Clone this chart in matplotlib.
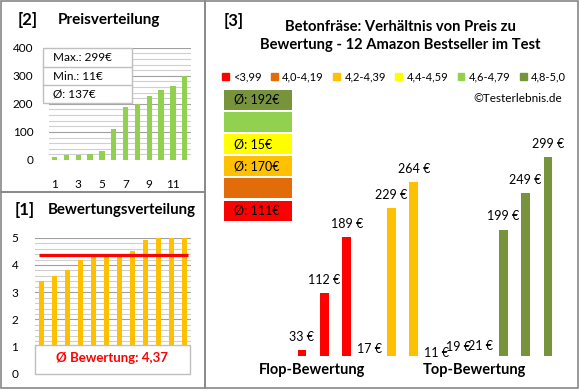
import numpy as np
import matplotlib
matplotlib.use("Agg")
from matplotlib import pyplot as plt
from matplotlib.patches import Rectangle, Patch

plt.rcParams['font.family'] = ['Lato', 'DejaVu Sans']

W, H = 580, 390  # figure size in pixels

# products: price in EUR and star rating
prices = [33, 112, 189, 17, 229, 264, 11, 19, 21, 199, 249, 299]
ratings = [3.8, 3.4, 3.6, 4.3, 4.2, 4.3, 4.5, 4.4, 5.0, 4.9, 5.0, 5.0]

class_labels = ["<3,99", "4,0-4,19", "4,2-4,39", "4,4-4,59", "4,6-4,79", "4,8-5,0"]
class_colors = ["#FF0000", "#E36C0A", "#FFC000", "#FFFF00", "#92D050", "#77933C"]
class_edges = [4.0, 4.2, 4.4, 4.6, 4.8]

group_labels = ["Flop-Bewertung", "Top-Bewertung"]
group_pos = [0.45, 7.7]

title = "Betonfräse: Verhältnis von Preis zu\nBewertung - 12 Amazon Bestseller im Test"


def box(x0, y0, x1, y1):
    # pixel box (origin top left) -> figure fraction [left, bottom, width, height]
    return [x0 / W, 1 - y1 / H, (x1 - x0) / W, (y1 - y0) / H]


def frame(x0, y0, x1, y1, ec, fc="none", lw=1.0):
    l, b, w, h = box(x0, y0, x1, y1)
    fig.add_artist(Rectangle((l, b), w, h, transform=fig.transFigure,
                             facecolor=fc, edgecolor=ec, lw=lw))


def ftext(x, y, s, **kw):
    fig.text(x / W, 1 - y / H, s, va="center", **kw)


def excel_grid(ax, major, minor):
    ax.set_yticks(major)
    ax.set_yticks(minor, minor=True)
    ax.grid(axis="y", which="major", color="#a0a0a0", lw=0.8, zorder=0)
    ax.grid(axis="y", which="minor", color="#cfcfcf", lw=0.8, zorder=0)
    ax.set_axisbelow(True)
    for s in ax.spines.values():
        s.set_visible(False)
    ax.tick_params(which="both", length=0, labelsize=8.5)


fig = plt.figure(figsize=(W / 100, H / 100), dpi=100)

# panel frames
frame(1, 1, 205, 192, "#888888", lw=1.2)
frame(1, 192, 205, 388, "#888888", lw=1.2)
frame(205, 1, 578, 388, "#888888", lw=1.2)

# ---- [2] Preisverteilung
ax2 = fig.add_axes(box(48.6, 47.7, 190.6, 160))
p_sorted = sorted(prices)
ax2.bar(np.arange(1, 13), p_sorted, width=0.45, color="#92D050", zorder=3)
ax2.set_xlim(0.5, 12.5)
ax2.set_ylim(0, 400)
excel_grid(ax2, np.arange(0, 401, 100), np.arange(0, 401, 20))
ax2.set_xticks([1, 3, 5, 7, 9, 11])
ax2.tick_params(axis="x", pad=14)
ax2.tick_params(axis="y", pad=11)

ftext(18, 20, "[2]", fontsize=12, fontweight="bold")
ftext(58, 20, "Preisverteilung", fontsize=11, fontweight="bold")

frame(42.7, 48, 131.7, 103, "#bfbfbf", fc="white")
fig.add_artist(plt.Line2D([42.7 / W, 131.7 / W], [1 - 66.7 / H] * 2, color="#bfbfbf", lw=1))
fig.add_artist(plt.Line2D([42.7 / W, 131.7 / W], [1 - 85.3 / H] * 2, color="#bfbfbf", lw=1))
ftext(53, 57.5, "Max.: %d€" % max(prices), fontsize=8.5)
ftext(53, 76, "Min.: %d€" % min(prices), fontsize=8.5)
ftext(53, 94.5, "Ø: %d€" % round(np.mean(prices)), fontsize=8.5)

# ---- [1] Bewertungsverteilung
ax1 = fig.add_axes(box(35, 237.7, 190.8, 374))
r_sorted = sorted(ratings)
ax1.bar(np.arange(12), r_sorted, width=0.35, color="#FFC000", zorder=3)
ax1.set_xlim(-0.5, 11.5)
ax1.set_ylim(0, 5)
excel_grid(ax1, np.arange(0, 6), np.arange(0, 5.01, 0.2))
ax1.set_xticks([])
ax1.tick_params(axis="y", pad=12)
r_mean = np.mean(ratings)
ax1.hlines(r_mean, -0.2, 11.3, color="#FF0000", lw=2.3, zorder=4)

ftext(15, 210, "[1]", fontsize=12, fontweight="bold")
ftext(48, 210, "Bewertungsverteilung", fontsize=10.8, fontweight="bold")

frame(35, 345, 190, 373.5, "#bfbfbf", fc="white")
ftext(112, 358, "Ø Bewertung: " + ("%.2f" % r_mean).replace(".", ","),
      fontsize=9.5, fontweight="bold", color="#FF0000", ha="center")

# ---- [3] Preis vs Bewertung
classes = np.digitize(ratings, class_edges)
order = np.lexsort((prices, classes))
bar_vals = [prices[i] for i in order]
bar_cols = [class_colors[classes[i]] for i in order]

ax3 = fig.add_axes(box(290.8, 127, 559.1, 356))
xs = np.arange(len(bar_vals))
ax3.bar(xs, bar_vals, width=0.39, color=bar_cols)
ax3.set_xlim(-0.5, 11.5)
ax3.set_ylim(25, 340)
for x, v in zip(xs, bar_vals):
    ax3.text(x, v + 18, "%d €" % v, ha="center", va="center", fontsize=9)
ax3.set_yticks([])
ax3.set_xticks(group_pos, group_labels, fontsize=10.5, fontweight="bold")
ax3.tick_params(axis="x", length=0, pad=5)
for s in ax3.spines.values():
    s.set_visible(False)

ftext(224, 21, "[3]", fontsize=12, fontweight="bold")
fig.text(400 / W, 1 - 36 / H, title, ha="center", va="center", fontsize=10.6,
         fontweight="bold", linespacing=1.4)

handles = [Patch(color=c) for c in class_colors]
fig.legend(handles, class_labels, loc="center", bbox_to_anchor=(394 / W, 1 - 77.3 / H),
           ncol=6, frameon=False, fontsize=8, handlelength=0.6, handleheight=0.6,
           handletextpad=0.4, columnspacing=0.85, borderaxespad=0, borderpad=0)
ftext(562, 98, "©Testerlebnis.de", fontsize=8.5, ha="right")

# colour boxes with average price per rating class
for k in range(6):
    top = 90 + (5 - k) * 22.1
    frame(224, top, 292, top + 20, "none", fc=class_colors[k])
    members = [prices[i] for i in range(len(prices)) if classes[i] == k]
    if members:
        ftext(234, top + 10, "Ø: %d€" % round(np.mean(members)), fontsize=9)

fig.savefig("out.png", dpi=100, facecolor="white")
